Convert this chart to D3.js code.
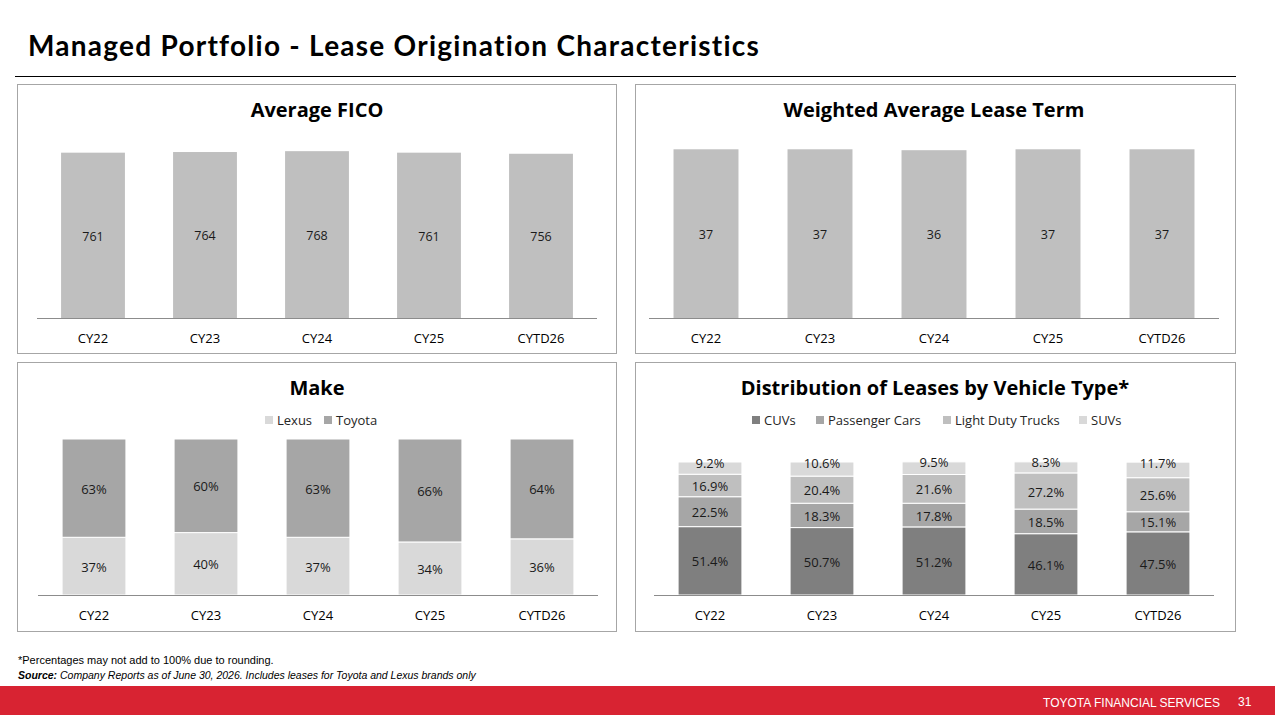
<!DOCTYPE html>
<html>
<head>
<meta charset="utf-8">
<script src="https://cdn.jsdelivr.net/npm/d3@7"></script>
<style>
	body { margin: 0; background: #fff; }
	svg { display: block; font-family: "Open Sans", "Noto Sans", sans-serif; }
</style>
</head>
<body>
<svg id="page" width="1275" height="715"></svg>
<script>
// chart data
var years = ["CY22", "CY23", "CY24", "CY25", "CYTD26"];
var ficoValues = [761, 764, 768, 761, 756];
var termValues = [36.6, 36.6, 36.4, 36.6, 36.6];
var lexusShare = [37, 40, 37, 34, 36];
var toyotaShare = [63, 60, 63, 66, 64];
var cuvShare = [51.4, 50.7, 51.2, 46.1, 47.5];
var passengerShare = [22.5, 18.3, 17.8, 18.5, 15.1];
var truckShare = [16.9, 20.4, 21.6, 27.2, 25.6];
var suvShare = [9.2, 10.6, 9.5, 8.3, 11.7];

var svg = d3.select("#page");

// page title + rule
svg.append("text")
.attr("x", 28).attr("y", 56)
.attr("font-family", "Lato, sans-serif")
.attr("font-weight", "bold")
.attr("font-size", 28)
.attr("letter-spacing", 1.25)
.style("font-variant-ligatures", "none")
.attr("fill", "#000")
.text("Managed Portfolio - Lease Origination Characteristics");

svg.append("line")
.attr("x1", 15).attr("x2", 1236)
.attr("y1", 76.5).attr("y2", 76.5)
.attr("stroke", "#000").attr("stroke-width", 1);

// draws one framed panel; series = [{name, values, color}] stacked from bottom
function renderPanel(cfg, series) {
	var g = svg.append("g");

	g.append("rect")
	.attr("x", cfg.x + 0.5).attr("y", cfg.y + 0.5)
	.attr("width", cfg.w).attr("height", cfg.h)
	.attr("fill", "#fff").attr("stroke", "#a6a6a6");

	g.append("text")
	.attr("x", cfg.titleX).attr("y", cfg.y + 26)
	.attr("dy", "0.35em")
	.attr("text-anchor", "middle")
	.attr("font-weight", "bold")
	.attr("font-size", 20)
	.attr("fill", "#000")
	.text(cfg.title);

	var x = d3.scaleBand()
	.domain(years)
	.range(cfg.xRange)
	.paddingInner(0.43)
	.paddingOuter(0.215);

	var y = d3.scaleLinear()
	.domain([0, cfg.max])
	.range([cfg.base, cfg.top]);

	var stacked = d3.stack()
	.keys(series.map(function(s, i) { return i; }))
	(years.map(function(yr, j) {
		var row = {};
		series.forEach(function(s, i) { row[i] = s.values[j]; });
		return row;
	}));

	stacked.forEach(function(layer, i) {
		var s = series[i];
		var bar = g.selectAll(null)
		.data(layer)
		.enter().append("g");

		bar.append("rect")
		.attr("x", function(d, j) { return x(years[j]); })
		.attr("y", function(d) { return y(d[1]); })
		.attr("width", x.bandwidth())
		.attr("height", function(d) { return y(d[0]) - y(d[1]); })
		.attr("fill", s.color)
		.attr("stroke", series.length > 1 ? "#fff" : "none")
		.attr("stroke-width", 1);

		bar.append("text")
		.attr("x", function(d, j) { return x(years[j]) + x.bandwidth() / 2; })
		.attr("y", function(d) {
			var mid = (y(d[0]) + y(d[1])) / 2;
			return i === series.length - 1 && series.length > 2 ? y(d[1]) + 1 : mid + 1;
		})
		.attr("dy", "0.35em")
		.attr("text-anchor", "middle")
		.attr("font-size", cfg.labelSize)
		.attr("fill", "#1a1a1a")
		.text(function(d, j) { return cfg.fmt(s.values[j]); });
	});

	// category axis
	g.append("line")
	.attr("x1", cfg.xRange[0]).attr("x2", cfg.xRange[1])
	.attr("y1", cfg.base + 0.5).attr("y2", cfg.base + 0.5)
	.attr("stroke", "#8c8c8c").attr("stroke-width", 1.2);

	g.selectAll(null)
	.data(years)
	.enter().append("text")
	.attr("x", function(d) { return x(d) + x.bandwidth() / 2; })
	.attr("y", cfg.base + 20)
	.attr("dy", "0.35em")
	.attr("text-anchor", "middle")
	.attr("font-size", 13)
	.attr("fill", "#000")
	.text(function(d) { return d; });

	// legend
	if (cfg.legend) {
		var item = g.selectAll(null)
		.data(cfg.legend)
		.enter().append("g")
		.attr("transform", function(d) { return "translate(" + d.x + "," + (cfg.y + 58) + ")"; });

		item.append("rect")
		.attr("x", 0).attr("y", -4)
		.attr("width", 8).attr("height", 8)
		.attr("fill", function(d) { return series[d.i].color; });

		item.append("text")
		.attr("x", 12).attr("y", 0)
		.attr("dy", "0.35em")
		.attr("font-size", 13)
		.attr("fill", "#262626")
		.text(function(d) { return series[d.i].name; });
	}
}

var whole = d3.format(".0f");
var pct = function(v) { return v + "%"; };
var pct1 = function(v) { return d3.format(".1f")(v) + "%"; };

renderPanel({x: 17, y: 84, w: 599, h: 269, titleX: 317, title: "Average FICO",
	xRange: [37, 597], base: 318, top: 129, max: 870, fmt: whole, labelSize: 12.5},
	[{name: "FICO", values: ficoValues, color: "#bfbfbf"}]);

renderPanel({x: 635, y: 84, w: 600, h: 269, titleX: 934, title: "Weighted Average Lease Term",
	xRange: [649, 1219], base: 318, top: 129, max: 41, fmt: whole, labelSize: 12.5},
	[{name: "Term", values: termValues, color: "#bfbfbf"}]);

renderPanel({x: 17, y: 362, w: 599, h: 269, titleX: 317, title: "Make",
	xRange: [38, 598], base: 595, top: 439, max: 100, fmt: pct, labelSize: 13,
	legend: [{i: 0, x: 265}, {i: 1, x: 324}]},
	[{name: "Lexus", values: lexusShare, color: "#d9d9d9"},
	 {name: "Toyota", values: toyotaShare, color: "#a6a6a6"}]);

renderPanel({x: 635, y: 362, w: 600, h: 269, titleX: 935, title: "Distribution of Leases by Vehicle Type*",
	xRange: [654, 1214], base: 595, top: 462, max: 100, fmt: pct1, labelSize: 13,
	legend: [{i: 0, x: 752}, {i: 1, x: 816}, {i: 2, x: 943}, {i: 3, x: 1079}]},
	[{name: "CUVs", values: cuvShare, color: "#7f7f7f"},
	 {name: "Passenger Cars", values: passengerShare, color: "#a6a6a6"},
	 {name: "Light Duty Trucks", values: truckShare, color: "#bfbfbf"},
	 {name: "SUVs", values: suvShare, color: "#d9d9d9"}]);

// footnotes
svg.append("text")
.attr("x", 18).attr("y", 664)
.attr("font-family", "'Liberation Sans Narrow', 'Liberation Sans', sans-serif")
.attr("font-size", 11)
.attr("fill", "#000")
.text("*Percentages may not add to 100% due to rounding.");

var src = svg.append("text")
.attr("x", 18).attr("y", 679)
.attr("font-family", "'Liberation Sans Narrow', 'Liberation Sans', sans-serif")
.attr("font-size", 10.5)
.attr("font-style", "italic")
.attr("fill", "#000");

src.append("tspan").attr("font-weight", "bold").text("Source:");
src.append("tspan").text(" Company Reports as of June 30, 2026. Includes leases for Toyota and Lexus brands only");

// red footer band
svg.append("rect")
.attr("x", 0).attr("y", 686)
.attr("width", 1275).attr("height", 29)
.attr("fill", "#d82332");

svg.append("text")
.attr("x", 1220).attr("y", 703)
.attr("dy", "0.35em")
.attr("text-anchor", "end")
.attr("font-family", "'Liberation Sans Narrow', 'Liberation Sans', sans-serif")
.attr("font-size", 12)
.attr("fill", "#fff")
.text("TOYOTA FINANCIAL SERVICES");

svg.append("text")
.attr("x", 1238).attr("y", 702)
.attr("dy", "0.35em")
.attr("font-family", "'Liberation Sans Narrow', 'Liberation Sans', sans-serif")
.attr("font-size", 12)
.attr("fill", "#fff")
.text("31");
</script>
</body>
</html>
